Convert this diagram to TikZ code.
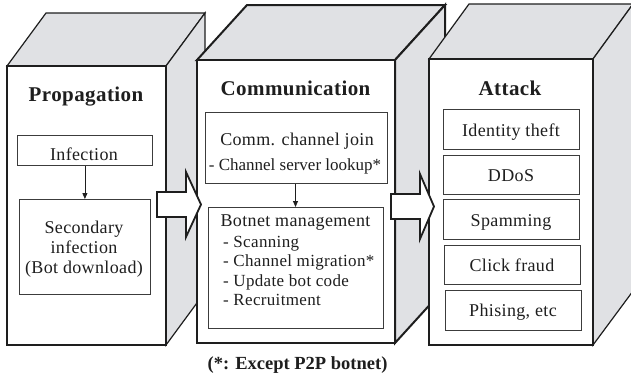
\documentclass[tikz,border=0pt]{standalone}
\usepackage{fontspec}
\setmainfont[LetterSpace=2]{Liberation Serif}
\newfontfamily\plainserif{Liberation Serif}
\usetikzlibrary{arrows.meta}
\definecolor{face}{RGB}{224,225,228}
\definecolor{ink}{RGB}{30,30,30}
\definecolor{boxline}{RGB}{60,60,60}
\begin{document}
\begin{tikzpicture}[x=1pt,y=-1pt,
  cube/.style={draw=ink,line width=1.2pt,line join=miter},
  cubethick/.style={draw=ink,line width=2pt,line join=miter},
  ibox/.style n args={2}{draw=boxline,line width=0.8pt,minimum width=#1,minimum height=#2,inner sep=0pt,anchor=north west},
  tx/.style={anchor=base,inner sep=0pt,text=ink,font=\fontsize{18}{20}\selectfont},
  txs/.style={anchor=base west,inner sep=0pt,text=ink,font=\fontsize{17}{19}\selectfont},
  ttl/.style={anchor=base,inner sep=0pt,text=ink,font=\fontsize{21}{23}\selectfont\bfseries},
  blockarrow/.style={draw=ink,fill=white,line width=1.8pt,line join=miter},
  link/.style={draw=ink,line width=0.8pt,-{Triangle[length=6pt,width=5pt]}}]
\useasboundingbox (0,0) rectangle (631,376);
% ---- cube 1: Propagation
\draw[cube,fill=face] (7,66) -- (46,13) -- (205,13) -- (166,66) -- cycle;
\draw[cube,fill=face] (166,66) -- (205,13) -- (205,292) -- (166,345) -- cycle;
\draw[cube,fill=white] (7,66) rectangle (166,345);
% ---- cube 2: Communication
\draw[cubethick,fill=face] (197,60) -- (247,5) -- (445,5) -- (395,60) -- cycle;
\draw[cubethick,fill=face] (395,60) -- (445,5) -- (445,288) -- (395,343) -- cycle;
\draw[cubethick,fill=white] (197,60) rectangle (395,343);
% ---- cube 3: Attack
\draw[cube,fill=face] (429,59) -- (469,4) -- (633,4) -- (593,59) -- cycle;
\draw[cube,fill=face] (593,59) -- (633,4) -- (633,291) -- (593,345) -- cycle;
\draw[cube,fill=white] (429,59) rectangle (593,345);
% ---- block arrows
\draw[blockarrow] (157,192) -- (186,192) -- (186,172) -- (201,204.5) -- (186,237) -- (186,217) -- (157,217) -- cycle;
\draw[blockarrow] (391,194) -- (420,194) -- (420,174) -- (434,206.5) -- (420,239) -- (420,219) -- (391,219) -- cycle;
% ---- Propagation content
\node[ttl] (t1) at (86,101.5) {Propagation};
\node[ibox={135pt}{30pt}] (inf) at (17,135) {};
\node[tx] (infT) at (84,160) {Infection};
\node[ibox={131pt}{95pt}] (sec) at (19,199) {};
\node[tx] (secA) at (84,233) {Secondary};
\node[tx] (secB) at (84,253) {infection};
\node[tx] (secC) at (84,273) {(Bot download)};
\draw[link] (inf.south) -- (sec.north);
% ---- Communication content
\node[ttl] (t2) at (295.5,95) {Communication};
\node[ibox={182pt}{71pt}] (cj) at (205,112) {};
\node[tx] (cjA) at (297,145) {Comm. channel join};
\node[tx,font=\fontsize{17}{19}\plainserif] (cjB) at (295,170) {- Channel server lookup*};
\node[ibox={175pt}{121pt}] (bm) at (208,207) {};
\node[tx] (bmA) at (295.5,226.5) {Botnet management};
\node[txs] (bm1) at (223,247) {- Scanning};
\node[txs] (bm2) at (223,266.5) {- Channel migration*};
\node[txs] (bm3) at (223,286) {- Update bot code};
\node[txs] (bm4) at (223,305) {- Recruitment};
\draw[link] (cj.south -| bmA) -- (bm.north -| bmA);
% ---- Attack content
\node[ttl] (t3) at (510,95) {Attack};
\node[ibox={136pt}{40pt}] (a1) at (443,109) {};
\node[tx] (a1T) at (511,136) {Identity theft};
\node[ibox={136pt}{39pt}] (a2) at (443,155) {};
\node[tx] (a2T) at (511,181.5) {DDoS};
\node[ibox={136pt}{40pt}] (a3) at (443,199) {};
\node[tx] (a3T) at (511,226) {Spamming};
\node[ibox={136pt}{39pt}] (a4) at (444,245) {};
\node[tx] (a4T) at (512,271.5) {Click fraud};
\node[ibox={136pt}{40pt}] (a5) at (445,290) {};
\node[tx] (a5T) at (513,316) {Phising, etc};
% ---- footnote
\node[anchor=base,inner sep=0pt,text=ink,font=\fontsize{18.5}{21}\plainserif\bfseries] (fn) at (297.5,369) {(*: Except P2P botnet)};
\end{tikzpicture}
\end{document}
